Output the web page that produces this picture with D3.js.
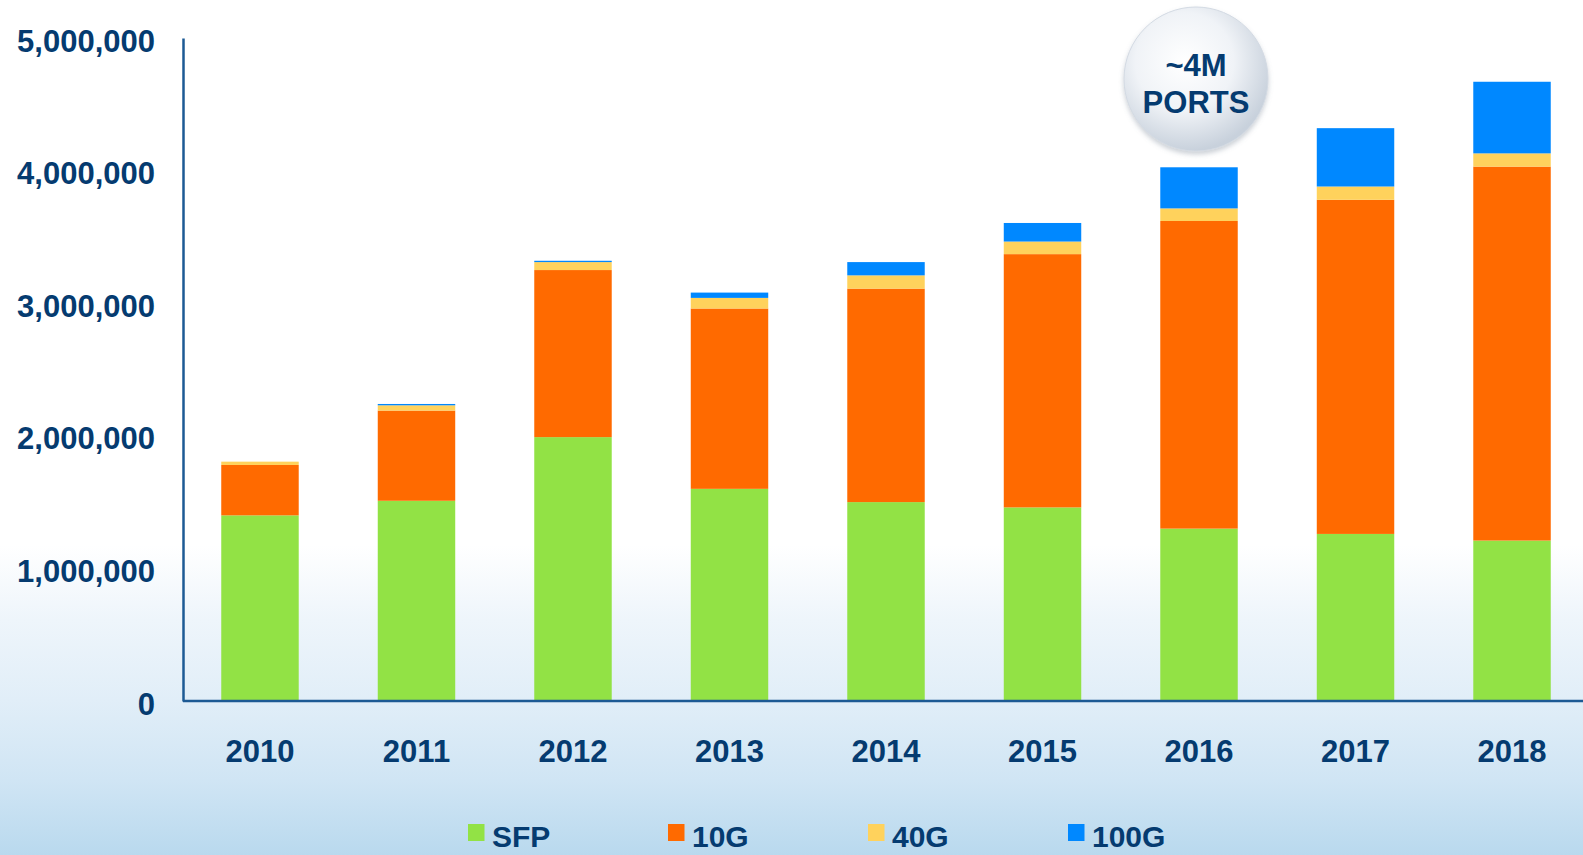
<!DOCTYPE html>
<html>
<head>
<meta charset="utf-8">
<script src="https://cdn.jsdelivr.net/npm/d3@7"></script>
<style>
  html, body { margin: 0; padding: 0; background: #ffffff; }
  svg { display: block; }
  text { font-family: "Liberation Sans", Arial, sans-serif; font-weight: bold; fill: #053b70; }
</style>
</head>
<body>
<svg id="chart" width="1583" height="855"></svg>
<script>
// Annual port shipments by interface type
const years = ["2010", "2011", "2012", "2013", "2014", "2015", "2016", "2017", "2018"];
const seriesNames = ["SFP", "10G", "40G", "100G"];
const sfp    = [1400000, 1510000, 1990000, 1600000, 1500000, 1460000, 1300000, 1260000, 1210000];
const tenG   = [ 380000,  680000, 1260000, 1360000, 1610000, 1910000, 2320000, 2520000, 2820000];
const fortyG = [  25000,   40000,   60000,   80000,  100000,   95000,   95000,  100000,  100000];
const hundG  = [      0,   10000,   10000,   40000,  100000,  140000,  310000,  440000,  540000];
const seriesColors = ["#92e245", "#ff6a00", "#ffd25c", "#0088ff"];
const yTicks = [0, 1000000, 2000000, 3000000, 4000000, 5000000];
const calloutLines = ["~4M", "PORTS"];

const W = 1583, H = 855;
const margin = { left: 183, top: 38, bottom: 154 };
const svg = d3.select("#chart");
const defs = svg.append("defs");

// page background: white fading to pale blue at the bottom
const bg = defs.append("linearGradient").attr("id", "bg")
  .attr("gradientUnits", "userSpaceOnUse").attr("x1", 0).attr("x2", 0).attr("y1", 0).attr("y2", H);
[[0, "#ffffff"], [545, "#ffffff"], [620, "#eef5fb"], [700, "#e1eef8"], [780, "#d0e5f4"], [855, "#b9d9ee"]]
  .forEach(([y, c]) => bg.append("stop").attr("offset", y / H).attr("stop-color", c));
svg.append("rect").attr("width", W).attr("height", H).attr("fill", "url(#bg)");

const rows = years.map((yr, i) => ({ year: yr, SFP: sfp[i], "10G": tenG[i], "40G": fortyG[i], "100G": hundG[i] }));
const stacked = d3.stack().keys(seriesNames)(rows);

const x = d3.scaleBand().domain(years).range([143, 1629]).paddingInner(0.505).paddingOuter(0.5);
const y = d3.scaleLinear().domain([0, 5000000]).range([H - margin.bottom, margin.top]);
const color = d3.scaleOrdinal().domain(seriesNames).range(seriesColors);

// stacked bars
svg.append("g").selectAll("g").data(stacked).join("g")
  .attr("fill", d => color(d.key))
  .selectAll("rect").data(d => d).join("rect")
  .attr("x", d => x(d.data.year))
  .attr("width", x.bandwidth())
  .attr("y", d => y(d[1]))
  .attr("height", d => Math.max(0, y(d[0]) - y(d[1])));

// y axis
const yAxis = svg.append("g").attr("transform", `translate(${margin.left},0)`)
  .call(d3.axisLeft(y).tickValues(yTicks).tickFormat(d3.format(",")).tickSize(0).tickPadding(28));
yAxis.select(".domain").attr("stroke", "#1d5a94").attr("stroke-width", 2.5);
yAxis.selectAll("text").attr("font-size", 31).attr("dy", "0.42em")
  .style("font-family", "'Liberation Sans', Arial, sans-serif").style("font-weight", "bold").attr("fill", "#053b70");

// x axis
const xAxis = svg.append("g").attr("transform", `translate(0,${y(0)})`)
  .call(d3.axisBottom(x).tickSize(0));
xAxis.select(".domain").remove();
xAxis.selectAll("text").attr("font-size", 31).attr("dy", 0).attr("y", 61)
  .style("font-family", "'Liberation Sans', Arial, sans-serif").style("font-weight", "bold").attr("fill", "#053b70");
svg.append("line")
  .attr("x1", margin.left).attr("x2", W).attr("y1", y(0)).attr("y2", y(0))
  .attr("stroke", "#1d5a94").attr("stroke-width", 2.5);

// legend
const legend = svg.append("g").selectAll("g").data(seriesNames).join("g")
  .attr("transform", (d, i) => `translate(${468 + i * 200},0)`);
legend.append("rect").attr("x", 0).attr("y", 824).attr("width", 16.5).attr("height", 17)
  .attr("fill", d => color(d));
legend.append("text").attr("x", 24).attr("y", 847).attr("font-size", 30).text(d => d);

// "~4M PORTS" callout bubble
const rg = defs.append("radialGradient").attr("id", "bubble")
  .attr("cx", "42%").attr("cy", "38%").attr("r", "62%");
rg.append("stop").attr("offset", "0%").attr("stop-color", "#ffffff");
rg.append("stop").attr("offset", "55%").attr("stop-color", "#f0f3f7");
rg.append("stop").attr("offset", "100%").attr("stop-color", "#c8d1dc");
const sh = defs.append("filter").attr("id", "shadow").attr("x", "-20%").attr("y", "-20%").attr("width", "140%").attr("height", "150%");
sh.append("feDropShadow").attr("dx", 0).attr("dy", 3).attr("stdDeviation", 2.5)
  .attr("flood-color", "#6b7a8c").attr("flood-opacity", 0.35);
const bubble = svg.append("g").attr("transform", "translate(1196,79)");
bubble.append("circle").attr("r", 72).attr("fill", "url(#bubble)")
  .attr("stroke", "#d3dae3").attr("stroke-width", 1).attr("filter", "url(#shadow)");
bubble.selectAll("text").data(calloutLines).join("text")
  .attr("text-anchor", "middle").attr("font-size", 31)
  .attr("y", (d, i) => -3 + i * 37).text(d => d);
</script>
</body>
</html>
